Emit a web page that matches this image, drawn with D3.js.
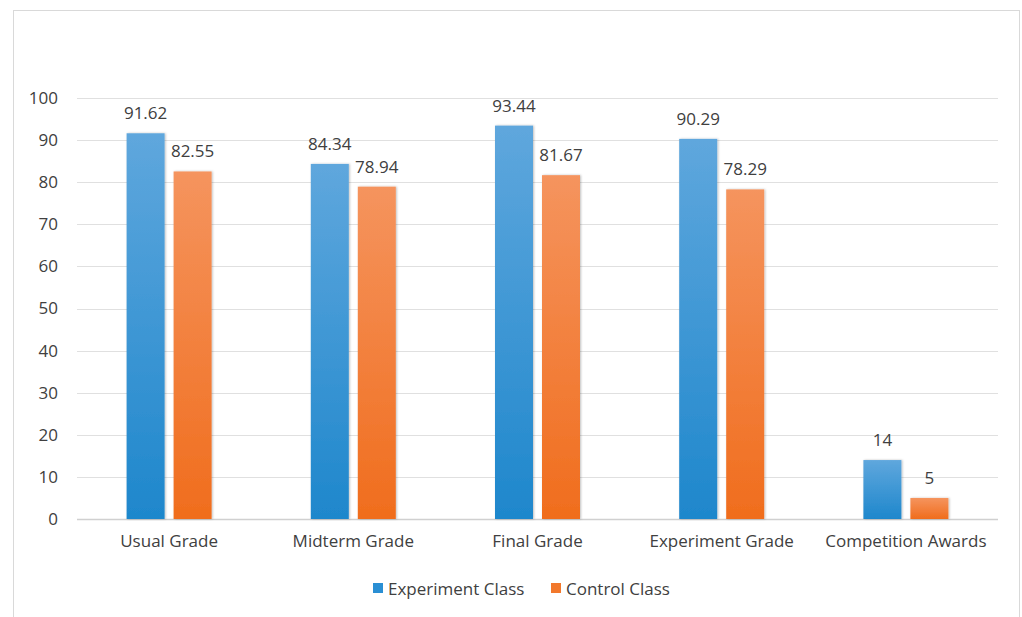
<!DOCTYPE html>
<html>
<head>
<meta charset="utf-8">
<script src="https://cdn.jsdelivr.net/npm/d3@7"></script>
<style>
  body { margin: 0; background: #fff; }
  svg text { font-family: "Open Sans", "Noto Sans", sans-serif; fill: #404040; }
</style>
</head>
<body>
<svg id="chart" width="1022" height="617"></svg>
<script>
// Grades and awards for the two classes
const categories = ["Usual Grade", "Midterm Grade", "Final Grade", "Experiment Grade", "Competition Awards"];
const seriesNames = ["Experiment Class", "Control Class"];
const experimentValues = [91.62, 84.34, 93.44, 90.29, 14];
const controlValues = [82.55, 78.94, 81.67, 78.29, 5];
const labelTexts = [
  ["91.62", "84.34", "93.44", "90.29", "14"],
  ["82.55", "78.94", "81.67", "78.29", "5"]
];
const yTicks = [0, 10, 20, 30, 40, 50, 60, 70, 80, 90, 100];

const svg = d3.select("#chart");
const W = 1022, H = 617;
const margin = { left: 77, right: 24, top: 98, bottom: 98 };

// outer frame
svg.append("rect")
  .attr("x", 13.5).attr("y", 10.5)
  .attr("width", 1006).attr("height", 620)
  .attr("fill", "#fff").attr("stroke", "#d9d9d9").attr("stroke-width", 1);

const x0 = d3.scaleBand()
  .domain(categories)
  .range([margin.left, W - margin.right]);
const y = d3.scaleLinear()
  .domain([0, 100])
  .range([H - margin.bottom, margin.top]);

const barW = 38, gap = 9;
const x1 = d3.scaleOrdinal()
  .domain([0, 1])
  .range([-(barW + gap / 2), gap / 2]);

const defs = svg.append("defs");
const grads = [
  { id: "gBlue", top: "#5fa7dd", bottom: "#1e87cc" },
  { id: "gOrange", top: "#f5945e", bottom: "#f06d1d" }
];
grads.forEach(g => {
  const lg = defs.append("linearGradient").attr("id", g.id)
    .attr("x1", 0).attr("y1", 0).attr("x2", 0).attr("y2", 1);
  lg.append("stop").attr("offset", "0%").attr("stop-color", g.top);
  lg.append("stop").attr("offset", "100%").attr("stop-color", g.bottom);
});
const shadow = defs.append("filter").attr("id", "shadow")
  .attr("x", "-20%").attr("y", "-20%").attr("width", "140%").attr("height", "140%");
shadow.append("feDropShadow").attr("dx", 1).attr("dy", 0).attr("stdDeviation", 1.2)
  .attr("flood-color", "#000").attr("flood-opacity", 0.25);

// gridlines
svg.append("g")
  .selectAll("line")
  .data(yTicks)
  .join("line")
  .attr("x1", margin.left).attr("x2", W - margin.right)
  .attr("y1", d => Math.round(y(d)) + 0.5).attr("y2", d => Math.round(y(d)) + 0.5)
  .attr("stroke", d => d === 0 ? "#d0d0d0" : "#e0e0e0")
  .attr("stroke-width", d => d === 0 ? 1.5 : 1);

const font = "'Open Sans', 'Noto Sans', sans-serif";

// y axis labels
const yAxis = d3.axisLeft(y).tickValues(yTicks).tickSize(0).tickPadding(0);
const yg = svg.append("g")
  .attr("transform", `translate(${margin.left - 19},0)`)
  .call(yAxis);
yg.select(".domain").remove();
yg.selectAll("text")
  .attr("font-size", 17).attr("fill", "#404040")
  .attr("font-family", font);

// x axis labels
const xAxis = d3.axisBottom(x0).tickSize(0).tickPadding(0);
const xg = svg.append("g")
  .attr("transform", `translate(0,${H - margin.bottom + 16})`)
  .call(xAxis);
xg.select(".domain").remove();
xg.selectAll("text")
  .attr("font-size", 17).attr("fill", "#404040")
  .attr("font-family", font);

const series = [experimentValues, controlValues];
const fills = ["url(#gBlue)", "url(#gOrange)"];

series.forEach((vals, si) => {
  const g = svg.append("g");
  g.selectAll("rect")
    .data(vals)
    .join("rect")
    .attr("x", (d, i) => x0(categories[i]) + x0.bandwidth() / 2 + x1(si))
    .attr("y", d => y(d))
    .attr("width", barW)
    .attr("height", d => y(0) - y(d))
    .attr("fill", fills[si])
    .attr("filter", "url(#shadow)");
  g.selectAll("text")
    .data(vals)
    .join("text")
    .attr("x", (d, i) => x0(categories[i]) + x0.bandwidth() / 2 + x1(si) + barW / 2)
    .attr("y", d => y(d) - 14)
    .attr("text-anchor", "middle")
    .attr("font-size", 17)
    .text((d, i) => labelTexts[si][i]);
});

// legend
const legend = svg.append("g").attr("transform", "translate(373,589)");
const legendItems = [
  { name: seriesNames[0], color: "#2a8fd4", x: 0 },
  { name: seriesNames[1], color: "#f2782c", x: 178 }
];
legendItems.forEach(it => {
  legend.append("rect").attr("x", it.x).attr("y", -6).attr("width", 10).attr("height", 10)
    .attr("fill", it.color);
  legend.append("text").attr("x", it.x + 15).attr("y", 0).attr("dy", "0.35em")
    .attr("font-size", 17).text(it.name);
});
</script>
</body>
</html>
